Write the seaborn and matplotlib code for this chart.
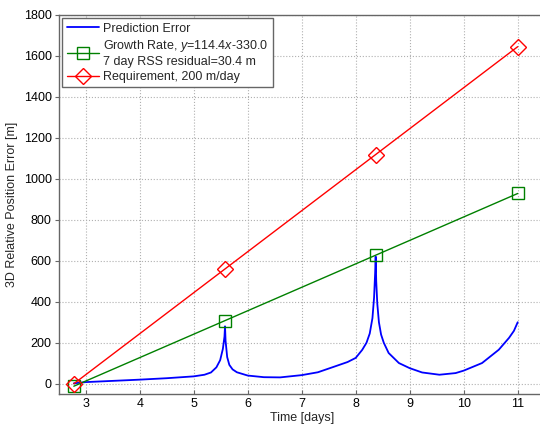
import numpy as np
import pandas as pd
import matplotlib
matplotlib.use("Agg")
import matplotlib.pyplot as plt
import seaborn as sns

# Prediction error curve (days, metres)
err_days = [2.78, 3.0, 3.5, 4.0, 4.5, 5.0, 5.2, 5.32, 5.42, 5.49, 5.54, 5.57, 5.58,
            5.59, 5.62, 5.66, 5.72, 5.8, 6.0, 6.3, 6.6, 7.0, 7.3, 7.62, 7.85, 8.0,
            8.12, 8.2, 8.26, 8.31, 8.34, 8.36, 8.37, 8.38, 8.40, 8.43, 8.47, 8.52,
            8.61, 8.8, 9.0, 9.23, 9.55, 9.85, 10.0, 10.34, 10.65, 10.84, 10.93, 11.0]
err_vals = [2, 8, 14, 20, 27, 36, 44, 55, 80, 115, 170, 230, 280,
            210, 130, 92, 70, 56, 40, 32, 31, 42, 56, 85, 106, 126,
            165, 200, 245, 320, 420, 540, 620, 500, 390, 300, 240, 200,
            150, 101, 76, 55, 44, 52, 64, 101, 166, 224, 258, 300]

# Growth rate fit and requirement line, sampled at the marker days
mark_days = [2.78, 5.58, 8.37, 11.0]
growth_vals = [-12, 308, 627, 928]
req_vals = [0, 560, 1118, 1644]

xticks = [3, 4, 5, 6, 7, 8, 9, 10, 11]
yticks = [0, 200, 400, 600, 800, 1000, 1200, 1400, 1600, 1800]

sns.set_style("whitegrid", {"grid.linestyle": ":", "grid.color": "#b0b0b0",
                            "axes.edgecolor": "#666666",
                            "xtick.bottom": True, "ytick.left": True})
plt.rcParams['font.family'] = ['Liberation Sans', 'DejaVu Sans']
plt.rcParams['mathtext.fontset'] = 'custom'
plt.rcParams['mathtext.it'] = 'Liberation Sans:italic'
plt.rcParams['mathtext.rm'] = 'Liberation Sans'
plt.rcParams['xtick.major.size'] = 3
plt.rcParams['ytick.major.size'] = 3

fig = plt.figure(figsize=(5.4, 4.3), dpi=100)
ax = fig.add_axes([58.7 / 540, 36 / 430, 486 / 540, 379.3 / 430])

err_df = pd.DataFrame({"t": err_days, "e": err_vals})
sns.lineplot(data=err_df, x="t", y="e", sort=False, color="#0000ff", lw=1.3,
             label="Prediction Error", ax=ax)
sns.lineplot(x=mark_days, y=growth_vals, color="#008000", lw=1.0, marker="s",
             markersize=8, markerfacecolor="none", markeredgecolor="#008000",
             markeredgewidth=1.0,
             label="Growth Rate, $y$=114.4$x$-330.0\n7 day RSS residual=30.4 m", ax=ax)
sns.lineplot(x=mark_days, y=req_vals, color="#ff0000", lw=1.0, marker="D",
             markersize=8, markerfacecolor="none", markeredgecolor="#ff0000",
             markeredgewidth=1.0, label="Requirement, 200 m/day", ax=ax)

ax.set_xlim(2.5, 11.5)
ax.set_ylim(-50, 1800)
ax.set_xticks(xticks)
ax.set_yticks(yticks)
ax.tick_params(axis="both", labelsize=9, labelcolor="black", color="#666666",
               length=3, width=0.8)
ax.tick_params(axis="x", direction="in", pad=3)
ax.tick_params(axis="y", direction="out", pad=2)
for s in ax.spines.values():
    s.set_color("#666666")
    s.set_linewidth(1.0)
ax.set_xlabel("Time [days]", fontsize=9, labelpad=1)
ax.set_ylabel("3D Relative Position Error [m]", fontsize=9, labelpad=4)

leg = ax.legend(loc="upper left", fontsize=9, frameon=True, fancybox=False,
                borderaxespad=0.3, handlelength=2.6, handletextpad=0.3,
                labelspacing=0.25, borderpad=0.35)
leg.get_frame().set_edgecolor("#666666")
leg.get_frame().set_linewidth(1.0)
leg.get_frame().set_alpha(1)

fig.savefig("out.png", dpi=100)
